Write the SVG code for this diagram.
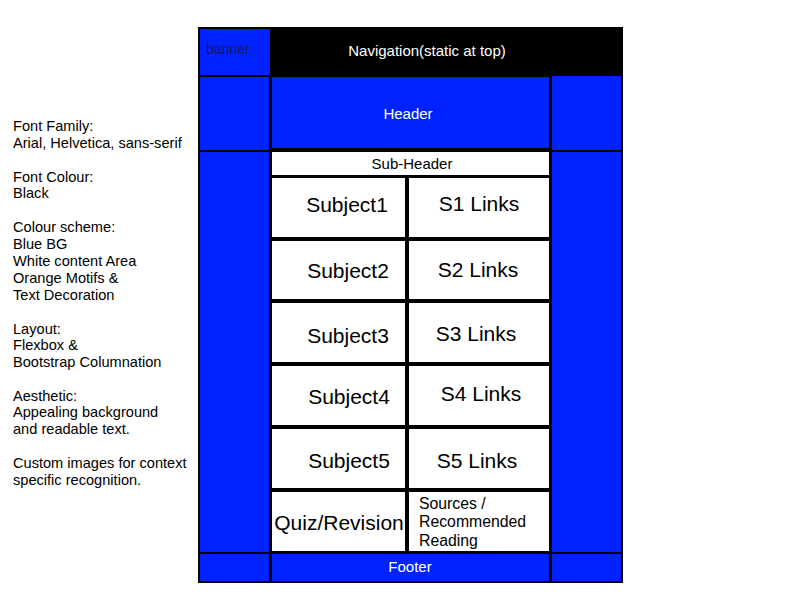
<svg xmlns="http://www.w3.org/2000/svg" width="800" height="600" viewBox="0 0 800 600">
<style>
text{font-family:"Liberation Sans",Arial,sans-serif}
.b{fill:#0022ff}
.w{fill:#ffffff}
.big{font-size:21px;fill:#000;text-anchor:middle}
.wt{font-size:15px;fill:#fff;text-anchor:middle}
.note{font-size:14.6px;fill:#000}
</style>
<rect width="800" height="600" fill="#fff"/>
<g id="frame"><rect x="198" y="27" width="425" height="556" fill="#000"/></g>
<g id="banner"><rect class="b" x="200" y="29" width="70" height="46"/><text x="228" y="54" font-size="14" fill="#1a1a55" text-anchor="middle">banner</text></g>
<g id="navigation"><text class="wt" x="427" y="56">Navigation(static at top)</text></g>
<g id="left-col"><rect class="b" x="200" y="77" width="69" height="73"/><rect class="b" x="200" y="152" width="69" height="400"/><rect class="b" x="200" y="554" width="69" height="27"/></g>
<g id="header"><rect class="b" x="272" y="77" width="277" height="71"/><text class="wt" x="408" y="119">Header</text></g>
<g id="right-col"><rect class="b" x="552" y="76" width="69" height="74"/><rect class="b" x="552" y="152" width="69" height="400"/><rect class="b" x="552" y="554" width="69" height="27"/></g>
<g id="sub-header"><rect class="w" x="272" y="152" width="277" height="23"/><text x="412" y="169" font-size="15" text-anchor="middle">Sub-Header</text></g>
<g id="subject1"><rect class="w" x="272" y="178" width="133" height="59"/><text class="big" x="347" y="212">Subject1</text></g>
<g id="s1links"><rect class="w" x="409" y="178" width="140" height="59"/><text class="big" x="479" y="211">S1 Links</text></g>
<g id="subject2"><rect class="w" x="272" y="241" width="133" height="58"/><text class="big" x="348" y="278">Subject2</text></g>
<g id="s2links"><rect class="w" x="409" y="241" width="140" height="58"/><text class="big" x="478" y="277">S2 Links</text></g>
<g id="subject3"><rect class="w" x="272" y="303" width="133" height="59"/><text class="big" x="348" y="343">Subject3</text></g>
<g id="s3links"><rect class="w" x="409" y="303" width="140" height="59"/><text class="big" x="476" y="341">S3 Links</text></g>
<g id="subject4"><rect class="w" x="272" y="366" width="133" height="59"/><text class="big" x="349" y="404">Subject4</text></g>
<g id="s4links"><rect class="w" x="409" y="366" width="140" height="59"/><text class="big" x="481" y="401">S4 Links</text></g>
<g id="subject5"><rect class="w" x="272" y="429" width="133" height="59"/><text class="big" x="349" y="468">Subject5</text></g>
<g id="s5links"><rect class="w" x="409" y="429" width="140" height="59"/><text class="big" x="477" y="468">S5 Links</text></g>
<g id="quiz"><rect class="w" x="272" y="492" width="133" height="59"/><text class="big" x="339" y="530">Quiz/Revision</text></g>
<g id="sources"><rect class="w" x="409" y="492" width="140" height="59"/><text x="419" y="509" font-size="15.8"><tspan x="419" y="509">Sources /</tspan><tspan x="419" y="527">Recommended</tspan><tspan x="419" y="546">Reading</tspan></text></g>
<g id="footer"><rect class="b" x="272" y="554" width="277" height="27"/><text class="wt" x="410" y="572">Footer</text></g>
<g id="notes"><text class="note">
<tspan x="13" y="131">Font Family:</tspan>
<tspan x="13" y="148">Arial, Helvetica, sans-serif</tspan>
<tspan x="13" y="182">Font Colour:</tspan>
<tspan x="13" y="198">Black</tspan>
<tspan x="13" y="232">Colour scheme:</tspan>
<tspan x="13" y="249">Blue BG</tspan>
<tspan x="13" y="266">White content Area</tspan>
<tspan x="13" y="283">Orange Motifs &amp;</tspan>
<tspan x="13" y="300">Text Decoration</tspan>
<tspan x="13" y="334">Layout:</tspan>
<tspan x="13" y="350">Flexbox &amp;</tspan>
<tspan x="13" y="367">Bootstrap Columnation</tspan>
<tspan x="13" y="401">Aesthetic:</tspan>
<tspan x="13" y="417">Appealing background</tspan>
<tspan x="13" y="434">and readable text.</tspan>
<tspan x="13" y="468">Custom images for context</tspan>
<tspan x="13" y="485">specific recognition.</tspan>
</text></g>
<g id="connectors"/>
</svg>
